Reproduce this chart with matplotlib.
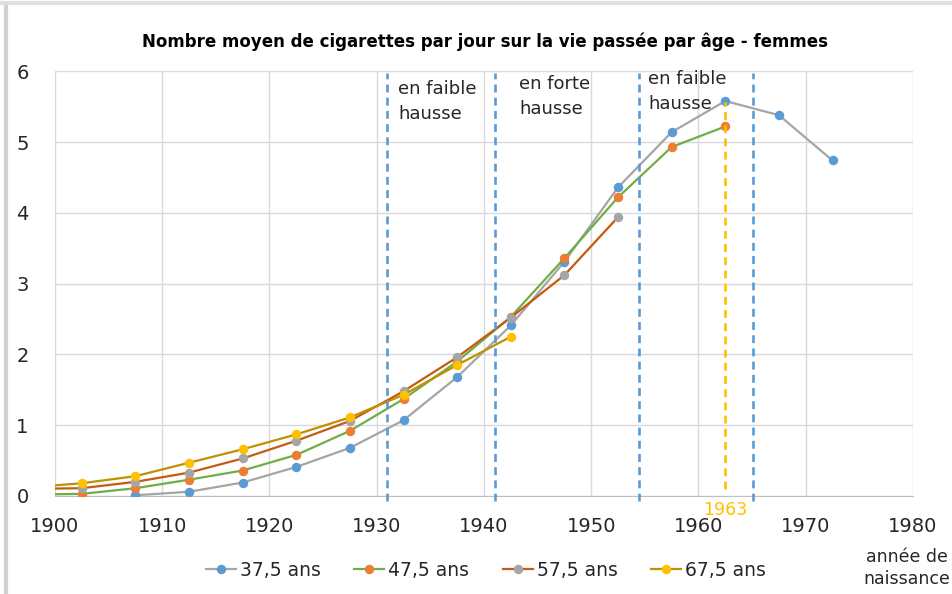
import matplotlib.pyplot as plt
from matplotlib.lines import Line2D

# birth cohorts (mid 5-year groups)
years_375 = [1907.5, 1912.5, 1917.5, 1922.5, 1927.5, 1932.5, 1937.5, 1942.5,
             1947.5, 1952.5, 1957.5, 1962.5, 1967.5, 1972.5]
vals_375 = [0.01, 0.06, 0.19, 0.41, 0.68, 1.07, 1.68, 2.41, 3.31, 4.36, 5.14, 5.58, 5.38, 4.74]

years_475 = [1897.5, 1902.5, 1907.5, 1912.5, 1917.5, 1922.5, 1927.5, 1932.5, 1937.5,
             1942.5, 1947.5, 1952.5, 1957.5, 1962.5]
vals_475 = [0.02, 0.03, 0.11, 0.23, 0.36, 0.58, 0.92, 1.37, 1.90, 2.53, 3.36, 4.22, 4.93, 5.22]

years_575 = [1897.5, 1902.5, 1907.5, 1912.5, 1917.5, 1922.5, 1927.5, 1932.5, 1937.5,
             1942.5, 1947.5, 1952.5]
vals_575 = [0.10, 0.11, 0.20, 0.33, 0.53, 0.78, 1.06, 1.48, 1.96, 2.52, 3.12, 3.94]

years_675 = [1897.5, 1902.5, 1907.5, 1912.5, 1917.5, 1922.5, 1927.5, 1932.5, 1937.5, 1942.5]
vals_675 = [0.12, 0.18, 0.28, 0.47, 0.66, 0.87, 1.11, 1.43, 1.85, 2.25]

phase_lines = [1931, 1941, 1954.5, 1965.1]
phase_labels = ["en faible\nhausse", "en forte\nhausse", "en faible\nhausse"]
phase_label_x = [1932.0, 1943.3, 1955.3]
phase_label_y = [5.87, 5.95, 6.02]

peak_year = 1962.5
peak_value = 5.57

series = [
    ("37,5 ans", years_375, vals_375, "#A5A5A5", "#5B9BD5"),
    ("47,5 ans", years_475, vals_475, "#70AD47", "#ED7D31"),
    ("57,5 ans", years_575, vals_575, "#C55A11", "#A5A5A5"),
    ("67,5 ans", years_675, vals_675, "#BF9000", "#FFC000"),
]

fig = plt.figure(figsize=(9.53, 5.94), dpi=100)
ax = fig.add_axes([0.0577, 0.165, 0.9003, 0.715])

for label, xs, ys, lc, mc in series:
    ax.plot(xs, ys, color=lc, lw=1.6, marker="o", ms=5.8,
            markerfacecolor=mc, markeredgecolor=mc, label=label, zorder=3)

for x in phase_lines:
    ax.axvline(x, ymin=-0.012, ymax=0.995, color="#5B9BD5", lw=1.9,
               dashes=(3, 2), clip_on=False, zorder=4)

ax.plot([peak_year, peak_year], [0.1, peak_value], color="#FFC000", lw=1.9,
        dashes=(3, 2), zorder=4)
ax.text(peak_year, -0.2, "1963", color="#FFC000", fontsize=12.5,
        ha="center", va="center")

for txt, x, y in zip(phase_labels, phase_label_x, phase_label_y):
    ax.text(x, y, txt, fontsize=13, color="#262626", ha="left", va="top",
            linespacing=1.5)

ax.set_xlim(1900, 1980)
ax.set_ylim(0, 6)
ax.set_xticks(range(1900, 1981, 10))
ax.set_yticks(range(0, 7))
ax.grid(True, color="#D9D9D9", lw=1)
ax.set_axisbelow(True)
ax.tick_params(length=0, labelsize=14, colors="#262626")
ax.tick_params(axis="x", pad=15)
ax.tick_params(axis="y", pad=19)
for s in ["top", "right", "left"]:
    ax.spines[s].set_visible(False)
ax.spines["bottom"].set_color("#BFBFBF")

fig.suptitle("Nombre moyen de cigarettes par jour sur la vie passée par âge - femmes",
             x=0.509, y=0.945, fontsize=12, fontweight="bold",
             family=["Liberation Sans Narrow", "DejaVu Sans"])

leg = fig.legend(loc="center", bbox_to_anchor=(0.51, 0.04), ncol=4, frameon=False,
                 fontsize=13.5, handlelength=1.6, handletextpad=0.2, columnspacing=1.8)
for t in leg.get_texts():
    t.set_color("#262626")

fig.text(0.952, 0.044, "année de\nnaissance", fontsize=12.5, color="#262626",
         ha="center", va="center", linespacing=1.3)

# chart frame remnants
fig.add_artist(Line2D([0.006, 0.006], [0, 0.99], color="#D0D0D0", lw=3))
fig.add_artist(Line2D([0, 1], [0.995, 0.995], color="#E0E0E0", lw=3))

fig.savefig("out.png", dpi=100)
